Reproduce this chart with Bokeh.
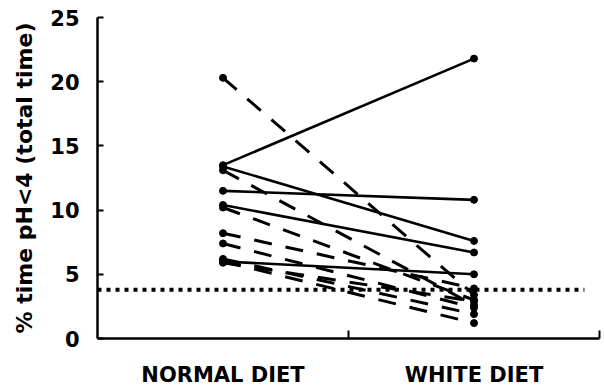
from bokeh.plotting import figure
from bokeh.models import Range1d, FixedTicker
from bokeh.embed import file_html
from bokeh.resources import INLINE

# ---- data ----
categories = ["NORMAL DIET", "WHITE DIET"]
normal_diet = [13.5, 13.4, 11.5, 10.4, 6.0, 20.3, 13.1, 10.2, 8.2, 7.4, 6.2, 6.0, 5.9]
white_diet = [21.8, 7.6, 10.8, 6.7, 5.0, 3.4, 2.6, 3.0, 3.9, 2.4, 1.9, 1.2, 2.9]
line_kind = ["solid"] * 5 + ["dashed"] * 8
threshold = 3.8
threshold_extent = [0.0, 1.94]
y_ticks = [0, 5, 10, 15, 20, 25]

FONT = "DejaVu Sans"

p = figure(width=604, height=389, output_backend="svg", toolbar_location=None,
           x_range=Range1d(0, 2), y_range=Range1d(0, 25),
           min_border_left=97, min_border_right=5, min_border_top=17,
           min_border_bottom=49)
p.outline_line_color = None
p.grid.visible = False
p.background_fill_color = "white"

xpos = [i + 0.5 for i in range(len(categories))]

# dotted threshold line
p.line(threshold_extent, [threshold, threshold], line_color="black",
       line_width=4, line_dash="4 5")

# paired lines
for a, b, kind in zip(normal_diet, white_diet, line_kind):
    if kind == "solid":
        p.line(xpos, [a, b], line_color="black", line_width=2.6)
    else:
        p.line(xpos, [a, b], line_color="black", line_width=3, line_dash="18 14")
    p.scatter(xpos, [a, b], size=7, marker="circle", color="black")

# x axis
xa = p.xaxis[0]
xa.ticker = FixedTicker(ticks=xpos, minor_ticks=[1.0, 2.0])
xa.major_label_overrides = {x: c for x, c in zip(xpos, categories)}
xa.major_tick_line_color = None
xa.major_tick_in = 0
xa.major_tick_out = 0
xa.minor_tick_in = 8
xa.minor_tick_out = 0
xa.minor_tick_line_color = "black"
xa.minor_tick_line_width = 2
xa.axis_line_width = 2.5
xa.axis_line_color = "black"
xa.major_label_standoff = 24
xa.major_label_text_font = FONT
xa.major_label_text_font_style = "bold"
xa.major_label_text_font_size = "21px"
xa.major_label_text_color = "black"

# y axis
ya = p.yaxis[0]
ya.ticker = FixedTicker(ticks=y_ticks)
ya.minor_tick_line_color = None
ya.major_tick_in = 6
ya.major_tick_out = 0
ya.major_tick_line_width = 2
ya.major_tick_line_color = "black"
ya.axis_line_width = 2.5
ya.axis_line_color = "black"
ya.major_label_standoff = 18
ya.major_label_text_font = FONT
ya.major_label_text_font_style = "bold"
ya.major_label_text_font_size = "21px"
ya.major_label_text_color = "black"
ya.axis_label = "% time pH<4 (total time)"
ya.axis_label_text_font = FONT
ya.axis_label_text_font_style = "bold"
ya.axis_label_text_font_size = "22px"
ya.axis_label_text_color = "black"
ya.axis_label_standoff = 10

open("out.html", "w").write(file_html(p, INLINE))
